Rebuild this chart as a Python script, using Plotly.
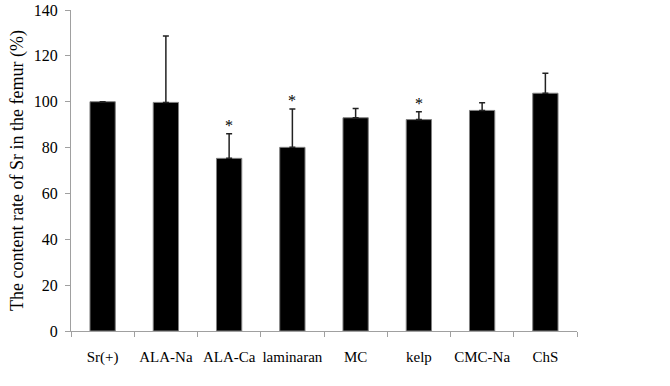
import plotly.graph_objects as go

categories = ["Sr(+)", "ALA-Na", "ALA-Ca", "laminaran", "MC", "kelp", "CMC-Na", "ChS"]
values = [100.0, 99.7, 75.3, 80.1, 93.0, 92.2, 96.2, 103.7]
errors = [0.0, 29.0, 10.7, 16.7, 4.0, 3.4, 3.4, 8.7]
significant = [False, False, True, True, False, True, False, False]

fig = go.Figure()
fig.add_trace(go.Bar(
    x=categories, y=values, width=0.4,
    marker=dict(color="black", line=dict(color="#808080", width=1)),
    error_y=dict(type="data", symmetric=False, array=errors,
                 arrayminus=[0] * len(errors),
                 color="#222222", thickness=1.5, width=3),
    showlegend=False,
))

star_x = [c for c, s in zip(categories, significant) if s]
star_y = [v + e for v, e, s in zip(values, errors, significant) if s]
for sx, sy in zip(star_x, star_y):
    fig.add_annotation(x=sx, y=sy, text="*", showarrow=False, yanchor="bottom",
                       yshift=-2, font=dict(family="Liberation Serif", size=16, color="black"))

xfont = dict(family="Liberation Serif", size=15, color="black")
yfont = dict(family="Liberation Serif", size=16, color="black")
tfont = dict(family="Liberation Serif", size=18, color="black")
fig.update_layout(
    width=670, height=386,
    margin=dict(l=71, r=93, t=10, b=55, autoexpand=False),
    paper_bgcolor="white", plot_bgcolor="white",
    font=xfont,
    bargap=0.6,
    xaxis=dict(type="category", range=[-0.5, 7.5], showline=True, linecolor="#a0a0a0",
               linewidth=1, ticks="outside", tickson="boundaries", ticklen=5,
               tickcolor="#a0a0a0", showgrid=False, tickfont=xfont, zeroline=False,
               tickangle=0, automargin=False, ticklabelstandoff=12),
    yaxis=dict(range=[0, 140], dtick=20, showline=True, linecolor="#a0a0a0", linewidth=1,
               ticks="outside", ticklen=5, tickcolor="#a0a0a0", showgrid=False,
               zeroline=False, tickfont=yfont, automargin=False, ticklabelstandoff=4,
               ticklabeloverflow="allow",
               title=dict(text="The content rate of Sr in the femur (%)", font=tfont, standoff=5)),
)

fig.write_html("out.html", config={"displayModeBar": False},
               post_script="document.body.style.margin='0';")
